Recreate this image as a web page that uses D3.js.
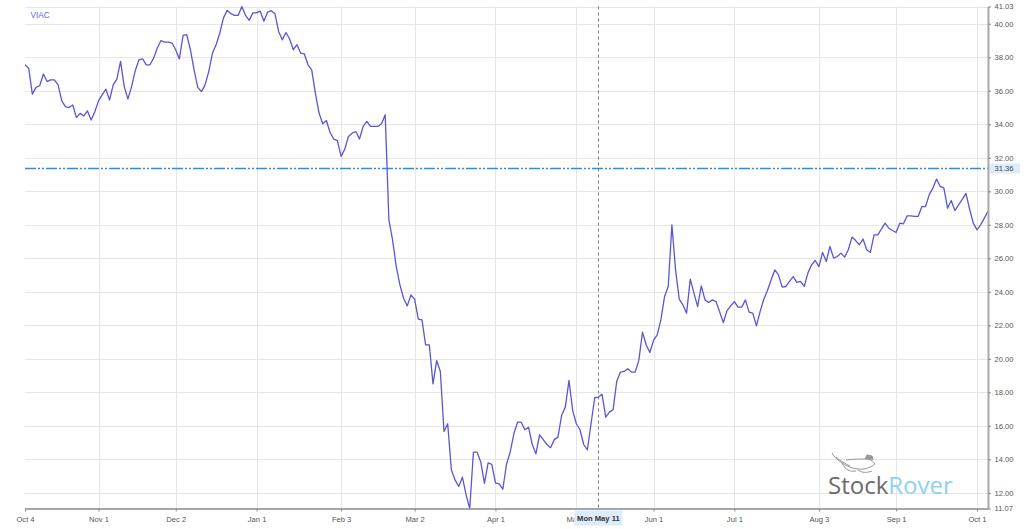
<!DOCTYPE html>
<html>
<head>
<meta charset="utf-8">
<script src="https://cdn.jsdelivr.net/npm/d3@7"></script>
<style>
html,body{margin:0;padding:0;background:#fff;}
svg{display:block;font-family:"Liberation Sans",Arial,sans-serif;}
</style>
</head>
<body>
<svg id="chart" width="1024" height="529"></svg>
<script>
// ---------- data ----------
const seriesName = "VIAC";
const startDate = "2019-10-04"; // first weekday of the series
const closes = [
37.55,37.35,35.8,36.2,36.3,37.0,36.55,36.65,36.65,36.35,
35.4,35.05,35.0,35.15,34.4,34.65,34.5,34.8,34.25,34.75,
35.4,35.75,36.1,35.45,36.35,36.7,37.75,36.25,35.5,36.25,
37.2,37.85,37.9,37.55,37.55,37.95,38.55,39.0,38.9,38.9,
38.85,38.45,37.9,39.3,39.35,38.45,37.25,36.2,35.95,36.35,
37.15,38.25,38.75,39.45,40.35,40.8,40.6,40.5,40.5,41.03,
40.5,40.2,40.65,40.65,40.75,40.15,40.7,40.78,40.6,39.54,
39.04,39.48,39.09,38.45,38.75,38.25,38.2,37.55,37.25,35.86,
34.67,34.03,34.23,33.51,33.12,33.03,32.08,32.52,33.27,33.47,
33.57,33.12,33.87,34.17,33.87,33.87,33.87,34.03,34.57,28.3,
27.1,25.51,24.42,23.62,23.16,23.82,23.56,22.37,22.33,20.84,
20.84,18.51,19.9,19.25,15.67,16.13,13.37,12.78,12.38,12.94,
11.9,11.07,14.43,14.43,13.85,12.57,13.79,13.71,12.6,12.54,
12.22,13.71,14.43,15.53,16.22,16.22,15.77,15.92,14.89,14.33,
15.47,15.18,14.89,14.70,15.18,15.33,16.63,17.12,18.72,16.93,
16.13,15.77,14.89,14.57,16.13,17.68,17.72,17.88,16.52,16.82,
16.96,18.67,19.21,19.25,19.41,19.21,19.21,19.91,21.6,20.84,
20.38,21.1,21.43,22.33,23.72,24.32,28.0,25.31,23.56,23.22,
22.73,24.76,23.92,23.12,24.36,23.52,23.36,23.52,23.42,22.8,
22.17,22.88,23.16,23.42,23.09,23.09,23.52,22.79,22.73,21.97,
22.82,23.56,24.08,24.72,25.31,25.01,24.28,24.32,24.62,24.91,
24.56,24.62,24.32,25.12,25.61,25.87,25.51,26.35,25.81,26.71,
26.01,26.11,26.31,26.07,26.51,27.27,27.06,26.81,27.15,26.51,
26.35,27.40,27.40,27.74,28.10,27.80,27.66,27.54,28.10,28.06,
28.54,28.54,28.50,28.50,29.09,29.09,29.79,30.19,30.73,30.29,
30.19,28.99,29.45,28.85,29.19,29.52,29.88,28.93,28.10,27.70,
28.0,28.40,28.80
];
const tickDates  = ["2019-10-04","2019-11-01","2019-12-02","2020-01-01","2020-02-03","2020-03-02","2020-04-01","2020-05-01","2020-06-01","2020-07-01","2020-08-03","2020-09-01","2020-10-01"];
const tickLabels = ["Oct 4","Nov 1","Dec 2","Jan 1","Feb 3","Mar 2","Apr 1","May 1","Jun 1","Jul 1","Aug 3","Sep 1","Oct 1"];
const yTicks = [12,14,16,18,20,22,24,26,28,30,32,34,36,38,40];
const yMin = 11.07, yMax = 41.03;
const hoverDate = "2020-05-11", hoverLabel = "Mon May 11";
const hoverValue = 31.36;
const logoParts = ["Stock","Rover"];

// ---------- weekday dates ----------
const fmt = d3.utcFormat("%Y-%m-%d");
const dates = [];
{
  let d = new Date(startDate + "T00:00:00Z");
  while (dates.length < closes.length) {
    const wd = d.getUTCDay();
    if (wd !== 0 && wd !== 6) dates.push(fmt(d));
    d = new Date(d.getTime() + 86400000);
  }
}
const data = dates.map((d,i)=>({date:d, value:closes[i]}));

// ---------- layout ----------
const svg = d3.select("#chart");
const L = 25, R = 988, T = 6.5, B = 508.5;
const FS = 7.6;
const x = d3.scalePoint().domain(dates).range([L, R]);
const y = d3.scaleLinear().domain([yMin, yMax]).range([B, T]);
const hx = x(hoverDate);

const defs = svg.append("defs");
defs.append("clipPath").attr("id","leftOfBox")
  .append("rect").attr("x", 0).attr("y", 0).attr("width", hx-24).attr("height", 529);

// gridlines
const grid = svg.append("g");
grid.selectAll("line.h").data(yTicks.concat([yMax])).join("line")
  .attr("x1", L).attr("x2", R)
  .attr("y1", d=>Math.round(y(d))+0.5).attr("y2", d=>Math.round(y(d))+0.5)
  .attr("stroke", "#e6e6e6").attr("stroke-width", 1);
grid.selectAll("line.v").data(tickDates.filter(d=>d!==tickDates[0])).join("line")
  .attr("x1", d=>Math.round(x(d))+0.5).attr("x2", d=>Math.round(x(d))+0.5)
  .attr("y1", T).attr("y2", B)
  .attr("stroke", "#e6e6e6").attr("stroke-width", 1);

// logo
const logo = svg.append("g");
logo.append("text").attr("x", 828).attr("y", 494)
  .attr("font-family", "'Open Sans',sans-serif").attr("font-size", 24)
  .selectAll("tspan").data(logoParts).join("tspan")
  .attr("fill", (d,i)=> i===0 ? "#6b6b6b" : "#8fd0f5").text(d=>d);
// simple dog sketch
const dog = logo.append("g").attr("fill","none").attr("stroke","#8c8c8c").attr("stroke-width",0.9);
dog.append("path").attr("d","M832,453 C834,457 838,460 842,463 C848,467 856,470 864,469 C868,468 872,467 875,464 C874,462 871,460 868,459 C860,459 852,459 846,460");
dog.append("path").attr("d","M842,463 C845,470 850,472 856,471 M858,470 C862,473 867,473 872,471");
dog.append("path").attr("d","M865,459 L867,455 L872,456 L873,460").attr("fill","#9a9a9a");
dog.append("path").attr("d","M836,457 C840,461 846,464 850,466");

// reference (price) line
svg.append("line")
  .attr("x1", L).attr("x2", R)
  .attr("y1", y(hoverValue)).attr("y2", y(hoverValue))
  .attr("stroke", "#2b8ee0").attr("stroke-width", 1.4)
  .attr("stroke-dasharray", "11,2,2,2,2,2");

// crosshair
svg.append("line")
  .attr("x1", Math.round(hx)+0.5).attr("x2", Math.round(hx)+0.5)
  .attr("y1", T).attr("y2", B)
  .attr("stroke", "#777").attr("stroke-width", 1)
  .attr("stroke-dasharray", "3,3");

// series line
svg.append("path").datum(data)
  .attr("fill", "none").attr("stroke", "#5b56d6").attr("stroke-width", 1.3)
  .attr("stroke-linejoin", "round")
  .attr("d", d3.line().x(d=>x(d.date)).y(d=>y(d.value)));

// legend label
svg.append("text").attr("x", 30.5).attr("y", 18)
  .attr("font-size", 8.3).attr("fill", "#6a62d8").text(seriesName);

// bottom axis
const xAxis = d3.axisBottom(x).tickValues(tickDates)
  .tickFormat(d=>tickLabels[tickDates.indexOf(d)]).tickSize(3).tickSizeOuter(0);
const gx = svg.append("g").attr("transform", `translate(0,${B})`).call(xAxis);
gx.select(".domain").attr("stroke", "#8a8a8a").attr("stroke-width", 1.5);
gx.selectAll(".tick line").attr("stroke", "#8a8a8a");
gx.selectAll(".tick text").attr("fill", "#555").attr("font-size", FS)
  .attr("font-family", "'Liberation Sans',Arial,sans-serif").attr("dy", "1.05em");
// the hover date box covers most of the "May 1" label
gx.selectAll(".tick").filter(d=>d==="2020-05-01").select("text")
  .attr("clip-path", null);
gx.selectAll(".tick").filter(d=>d==="2020-05-01")
  .attr("clip-path", "url(#leftOfBoxLocal)");
defs.append("clipPath").attr("id","leftOfBoxLocal")
  .append("rect").attr("x", -20).attr("y", -10).attr("width", (hx-24)-x("2020-05-01")+20).attr("height", 40);

// right axis
const yAxis = d3.axisRight(y).tickValues(yTicks.concat([yMin, yMax]))
  .tickFormat(d3.format(".2f")).tickSize(3).tickSizeOuter(0);
const gy = svg.append("g").attr("transform", `translate(${R},0)`).call(yAxis);
gy.select(".domain").attr("stroke", "#a8a8a8").attr("stroke-width", 2);
gy.selectAll(".tick line").attr("stroke", "#8a8a8a");
gy.selectAll(".tick text").attr("fill", "#555").attr("font-size", FS)
  .attr("font-family", "'Liberation Sans',Arial,sans-serif").attr("x", 6.5);

// value box on right axis
const vy = y(hoverValue);
svg.append("rect").attr("x", R+2).attr("y", vy-5).attr("width", 30).attr("height", 10).attr("fill", "#dcecfa");
svg.append("text").attr("x", R+6.5).attr("y", vy).attr("dy", "0.33em")
  .attr("font-size", FS).attr("fill", "#444").text(d3.format(".2f")(hoverValue));

// date box on bottom axis
svg.append("rect").attr("x", hx-24).attr("y", B+2).attr("width", 48).attr("height", 15).attr("fill", "#dcecfa");
svg.append("text").attr("x", hx).attr("y", B+12.5).attr("text-anchor", "middle")
  .attr("font-size", FS).attr("font-weight", "bold").attr("fill", "#333").text(hoverLabel);
</script>
</body>
</html>
